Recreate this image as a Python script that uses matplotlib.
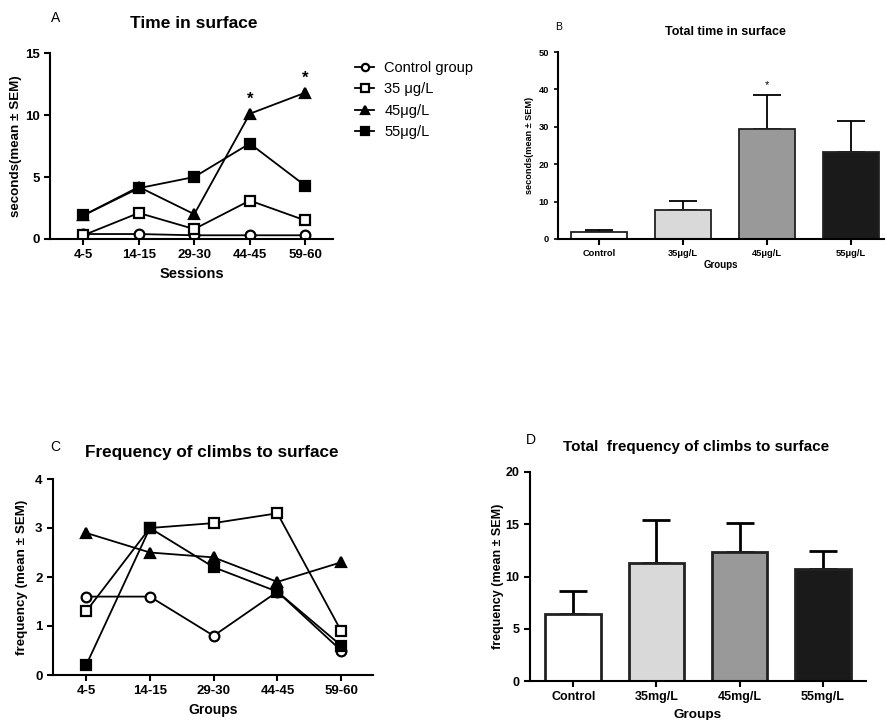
import numpy as np
import matplotlib
matplotlib.use('Agg')
import matplotlib.pyplot as plt

plt.rcParams['font.family'] = ['Liberation Sans', 'DejaVu Sans']

# ---- data ----
sessions = ['4-5', '14-15', '29-30', '44-45', '59-60']
line_groups = ['Control group', '35 \u03bcg/L', '45\u03bcg/L', '55\u03bcg/L']

# A: time in surface (seconds)
time_control = [0.4, 0.4, 0.3, 0.3, 0.3]
time_35 = [0.3, 2.1, 0.8, 3.1, 1.5]
time_45 = [1.9, 4.2, 2.0, 10.1, 11.8]
time_55 = [1.9, 4.1, 5.0, 7.7, 4.3]
time_stars = ['', '', '', '*', '*']

# B: total time in surface
bar_groups_b = ['Control', '35\u03bcg/L', '45\u03bcg/L', '55\u03bcg/L']
total_time_mean = [1.8, 7.8, 29.4, 23.3]
total_time_sem = [0.6, 2.4, 9.1, 8.3]
total_time_stars = ['', '', '*', '']

# C: frequency of climbs
freq_control = [1.6, 1.6, 0.8, 1.7, 0.5]
freq_35 = [1.3, 3.0, 3.1, 3.3, 0.9]
freq_45 = [2.9, 2.5, 2.4, 1.9, 2.3]
freq_55 = [0.2, 3.0, 2.2, 1.7, 0.6]

# D: total frequency of climbs
bar_groups_d = ['Control', '35mg/L', '45mg/L', '55mg/L']
total_freq_mean = [6.4, 11.3, 12.3, 10.7]
total_freq_sem = [2.2, 4.1, 2.8, 1.75]

bar_colors = ['white', '#d9d9d9', '#999999', '#1a1a1a']
marker_styles = [dict(marker='o', mfc='white'), dict(marker='s', mfc='white'),
                 dict(marker='^', mfc='black'), dict(marker='s', mfc='black')]

W, H = 886, 720
fig = plt.figure(figsize=(W / 100, H / 100), dpi=100)


def box(left, right, top, bottom):
    return [left / W, 1 - bottom / H, (right - left) / W, (bottom - top) / H]


def style_axes(ax, lw=1.5):
    for s in ['top', 'right']:
        ax.spines[s].set_visible(False)
    for s in ['left', 'bottom']:
        ax.spines[s].set_linewidth(lw)
    ax.tick_params(direction='out', length=4, width=lw)


def line_panel(ax, series, ms, fs_tick):
    x = np.arange(len(sessions))
    handles = []
    for vals, st, lab in zip(series, marker_styles, line_groups):
        h, = ax.plot(x, vals, color='black', lw=1.3, marker=st['marker'], mfc=st['mfc'],
                     mec='black', mew=1.6, ms=ms, label=lab)
        handles.append(h)
    ax.set_xticks(x)
    ax.set_xticklabels(sessions, fontsize=fs_tick, fontweight='bold')
    style_axes(ax)
    return handles


def bar_panel(ax, labels, means, sems, ymax, yticks, fs_tick, lw, cap):
    x = np.arange(len(labels))
    ax.errorbar(x, means, yerr=[np.zeros(len(means)), sems], fmt='none', ecolor='black',
                elinewidth=lw, capsize=cap, capthick=lw, zorder=1)
    ax.bar(x, means, width=0.67, color=bar_colors, edgecolor='#222222', linewidth=lw, zorder=2)
    ax.set_ylim(0, ymax)
    ax.set_yticks(yticks)
    ax.set_yticklabels([str(v) for v in yticks], fontsize=fs_tick, fontweight='bold')
    ax.set_xticks(x)
    ax.set_xticklabels(labels, fontsize=fs_tick, fontweight='bold')
    ax.tick_params(axis='x', length=0)
    style_axes(ax)


# ---- A ----
axA = fig.add_axes(box(50, 333, 53, 239))
hA = line_panel(axA, [time_control, time_35, time_45, time_55], 7, 9.5)
axA.set_xlim(-0.6, 4.5)
axA.set_ylim(0, 15)
axA.set_yticks([0, 5, 10, 15])
axA.set_yticklabels(['0', '5', '10', '15'], fontsize=9.5, fontweight='bold')
axA.set_xlabel('Sessions', fontsize=10.5, fontweight='bold', labelpad=4)
axA.set_ylabel('seconds(mean \u00b1 SEM)', fontsize=9.6, fontweight='bold', labelpad=2)
for i, s in enumerate(time_stars):
    if s:
        axA.text(i, max(time_45[i], time_55[i]) + 0.55, s, ha='center', va='bottom',
                 fontsize=12, fontweight='bold')
fig.legend(handles=hA, labels=line_groups, loc='upper left',
           bbox_to_anchor=(342 / W, 1 - 48 / H), frameon=False, fontsize=10.5,
           handlelength=1.3, handletextpad=0.7, labelspacing=0.5, markerscale=0.75)
fig.text(56 / W, 1 - 18 / H, 'A', fontsize=10, ha='center', va='center')
fig.text(194 / W, 1 - 24 / H, 'Time in surface', fontsize=12.5, fontweight='bold',
         ha='center', va='center')

# ---- B ----
axB = fig.add_axes(box(558, 884, 52, 239))
bar_panel(axB, bar_groups_b, total_time_mean, total_time_sem, 50, [0, 10, 20, 30, 40, 50],
          6.7, 1.3, 10)
axB.set_xlim(-0.49, 3.39)
axB.set_xlabel('Groups', fontsize=7, fontweight='bold', labelpad=1)
axB.set_ylabel('seconds(mean \u00b1 SEM)', fontsize=6.6, fontweight='bold', labelpad=3)
axB.tick_params(axis='y', length=3, width=1.2)
for i, s in enumerate(total_time_stars):
    if s:
        axB.text(i, total_time_mean[i] + total_time_sem[i] + 1.2, s, ha='center',
                 va='bottom', fontsize=8)
fig.text(559 / W, 1 - 27 / H, 'B', fontsize=7.5, ha='center', va='center')
fig.text(725 / W, 1 - 32 / H, 'Total time in surface', fontsize=9, fontweight='bold',
         ha='center', va='center')

# ---- C ----
axC = fig.add_axes(box(53, 373, 479, 675))
line_panel(axC, [freq_control, freq_35, freq_45, freq_55], 7, 9.5)
axC.set_xlim(-0.52, 4.5)
axC.set_ylim(0, 4)
axC.set_yticks([0, 1, 2, 3, 4])
axC.set_yticklabels(['0', '1', '2', '3', '4'], fontsize=9.5, fontweight='bold')
axC.set_xlabel('Groups', fontsize=10, fontweight='bold', labelpad=4)
axC.set_ylabel('frequency (mean \u00b1 SEM)', fontsize=9.6, fontweight='bold', labelpad=5)
fig.text(55 / W, 1 - 447 / H, 'C', fontsize=10, ha='center', va='center')
fig.text(212 / W, 1 - 452 / H, 'Frequency of climbs to surface', fontsize=12.3,
         fontweight='bold', ha='center', va='center')

# ---- D ----
axD = fig.add_axes(box(530, 866, 472, 681))
bar_panel(axD, bar_groups_d, total_freq_mean, total_freq_sem, 20, [0, 5, 10, 15, 20],
          9, 2.0, 10)
axD.set_xlim(-0.52, 3.52)
axD.set_xlabel('Groups', fontsize=9.7, fontweight='bold', labelpad=4)
axD.set_ylabel('frequency (mean \u00b1 SEM)', fontsize=9, fontweight='bold', labelpad=1)
fig.text(531 / W, 1 - 440 / H, 'D', fontsize=10, ha='center', va='center')
fig.text(696 / W, 1 - 447 / H, 'Total  frequency of climbs to surface', fontsize=11,
         fontweight='bold', ha='center', va='center')

plt.savefig('out.png', dpi=100)
plt.close()
